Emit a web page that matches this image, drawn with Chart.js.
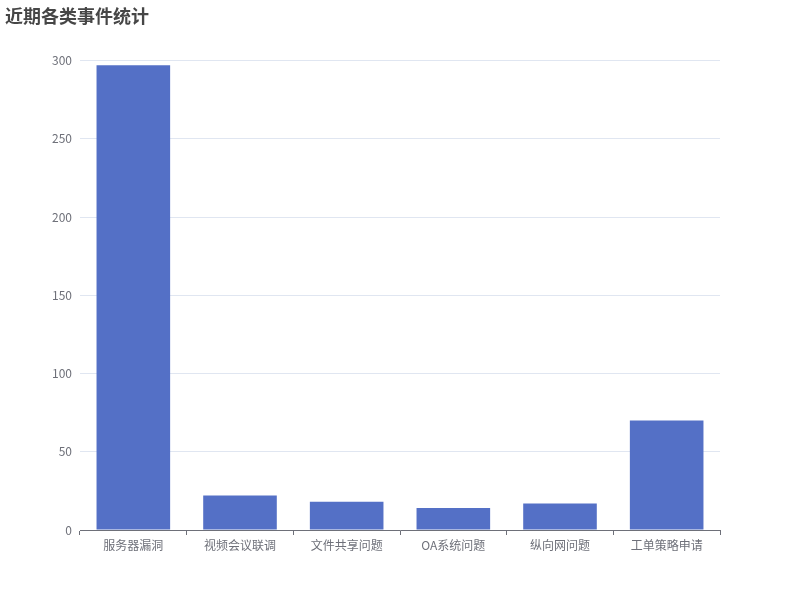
<!DOCTYPE html>
<html>
<head>
<meta charset="utf-8">
<script src="https://cdn.jsdelivr.net/npm/chart.js@4/dist/chart.umd.min.js"></script>
<style>
  html, body { margin: 0; padding: 0; background: #ffffff; }
  #wrap { width: 800px; height: 600px; }
</style>
</head>
<body>
<div id="wrap"><canvas id="theViz" width="800" height="600"></canvas></div>
<script>
const chartTitle = '近期各类事件统计';
const categories = ['服务器漏洞', '视频会议联调', '文件共享问题', 'OA系统问题', '纵向网问题', '工单策略申请'];
const eventCounts = [297, 22, 18, 14, 17, 70];
const yTicks = [0, 50, 100, 150, 200, 250, 300];

const fontFamily = '"Noto Sans CJK SC", "Noto Sans", sans-serif';

const ctx = document.getElementById('theViz').getContext('2d');
window.theViz = new Chart(ctx, {
    type: 'bar',
    data: {
        labels: categories,
        datasets: [{
            label: '事件数',
            data: eventCounts,
            backgroundColor: '#5470c6',
            borderWidth: 0,
            categoryPercentage: 1,
            barPercentage: 0.69
        }]
    },
    options: {
        responsive: false,
        animation: false,
        layout: {
            padding: { top: 5, left: 5, right: 80, bottom: 0 }
        },
        plugins: {
            legend: { display: false },
            tooltip: { enabled: false },
            title: {
                display: true,
                text: chartTitle,
                align: 'start',
                color: '#464646',
                font: { family: fontFamily, size: 18, weight: 'bold' },
                padding: { top: 0, bottom: 34 }
            }
        },
        scales: {
            x: {
                offset: true,
                grid: {
                    offset: true,
                    drawOnChartArea: false,
                    drawTicks: true,
                    tickLength: 5,
                    color: '#6E7079'
                },
                border: { display: true, color: '#6E7079' },
                ticks: {
                    color: '#6E7079',
                    padding: 3,
                    maxRotation: 0,
                    font: { family: fontFamily, size: 12 }
                },
                afterFit: function(scale) { scale.height = 70; }
            },
            y: {
                min: 0,
                max: 300,
                afterBuildTicks: function(scale) {
                    scale.ticks = yTicks.map(v => ({ value: v }));
                },
                grid: {
                    color: '#E0E6F1',
                    drawTicks: false
                },
                border: { display: false },
                ticks: {
                    color: '#6E7079',
                    padding: 8,
                    font: { family: fontFamily, size: 12 }
                },
                afterFit: function(scale) { scale.width = 75; }
            }
        }
    }
});
</script>
</body>
</html>
